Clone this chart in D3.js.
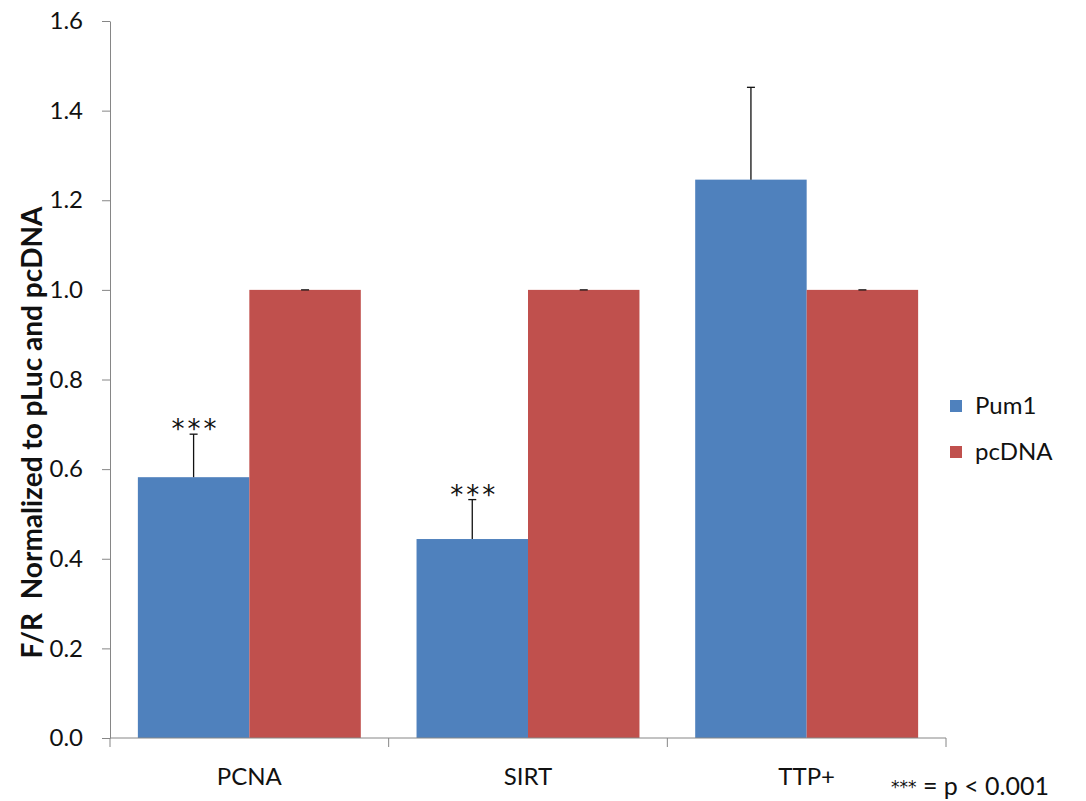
<!DOCTYPE html>
<html>
<head>
<meta charset="utf-8">
<script src="https://cdn.jsdelivr.net/npm/d3@7"></script>
<style>
  html, body { margin: 0; padding: 0; background: #fff; }
  svg { display: block; font-family: Lato, "Open Sans", sans-serif; }
</style>
</head>
<body>
<svg id="chart" width="1086" height="801"></svg>
<script>
// Luciferase ratios per reporter construct
const categories = ["PCNA", "SIRT", "TTP+"];
const seriesNames = ["Pum1", "pcDNA"];
const pum1Values = [0.582, 0.444, 1.246];
const pum1Errors = [0.096, 0.088, 0.206];
const pcdnaValues = [1.0, 1.0, 1.0];
const pcdnaErrors = [0, 0, 0];
const significance = ["***", "***", ""];
const yTicks = [0, 0.2, 0.4, 0.6, 0.8, 1.0, 1.2, 1.4, 1.6];
const colors = ["#4F81BD", "#C0504D"];

const rows = categories.map((c, i) => ({
  cat: c,
  bars: [
    { s: seriesNames[0], v: pum1Values[i], e: pum1Errors[i] },
    { s: seriesNames[1], v: pcdnaValues[i], e: pcdnaErrors[i] }
  ],
  sig: significance[i]
}));

const svg = d3.select("#chart");
const plotLeft = 110, plotRight = 946, plotTop = 21, plotBottom = 738;

const y = d3.scaleLinear().domain([0, 1.6]).range([plotBottom, plotTop]);
const x0 = d3.scaleBand().domain(categories).range([plotLeft, plotRight]).padding(0);
const bw = x0.bandwidth();
const x1 = d3.scaleBand().domain(seriesNames).range([bw * 0.1, bw * 0.9]).padding(0);
const color = d3.scaleOrdinal().domain(seriesNames).range(colors);

// Bars
const groups = svg.append("g").selectAll("g").data(rows).join("g")
  .attr("transform", d => `translate(${x0(d.cat)},0)`);

groups.selectAll("rect").data(d => d.bars).join("rect")
  .attr("x", d => x1(d.s))
  .attr("width", x1.bandwidth())
  .attr("y", d => y(d.v))
  .attr("height", d => y(0) - y(d.v))
  .attr("fill", d => color(d.s));

// Error bars (upper half only)
const err = groups.selectAll("g.err").data(d => d.bars).join("g").attr("class", "err")
  .attr("stroke", "#111").attr("stroke-width", 1.3);
err.append("line")
  .attr("x1", d => x1(d.s) + x1.bandwidth() / 2)
  .attr("x2", d => x1(d.s) + x1.bandwidth() / 2)
  .attr("y1", d => y(d.v))
  .attr("y2", d => y(d.v + d.e));
err.append("line")
  .attr("x1", d => x1(d.s) + x1.bandwidth() / 2 - 4)
  .attr("x2", d => x1(d.s) + x1.bandwidth() / 2 + 4)
  .attr("y1", d => y(d.v + d.e))
  .attr("y2", d => y(d.v + d.e));

// Significance markers above the Pum1 bars
groups.append("text")
  .attr("x", x1(seriesNames[0]) + x1.bandwidth() / 2 + 2)
  .attr("y", d => y(d.bars[0].v + d.bars[0].e) + 4)
  .attr("text-anchor", "middle")
  .attr("font-family", "'DejaVu Sans', sans-serif")
  .attr("font-size", 26)
  .attr("letter-spacing", 3)
  .attr("fill", "#111")
  .text(d => d.sig);

// Y axis
const yAxis = svg.append("g")
  .attr("transform", `translate(${plotLeft},0)`)
  .call(d3.axisLeft(y).tickValues(yTicks).tickFormat(d3.format(".1f")).tickSize(8).tickSizeOuter(0).tickPadding(19));
yAxis.select(".domain").attr("stroke", "#868686");
yAxis.selectAll(".tick line").attr("stroke", "#868686");
yAxis.selectAll(".tick text").attr("font-size", 24).attr("fill", "#111")
  .attr("font-family", "Lato, sans-serif");

// X axis: line plus boundary ticks between categories
const xAxisG = svg.append("g");
xAxisG.append("line")
  .attr("x1", plotLeft).attr("x2", plotRight)
  .attr("y1", y(0)).attr("y2", y(0))
  .attr("stroke", "#868686");
const boundaries = categories.map(c => x0(c)).concat([plotRight]);
xAxisG.selectAll("line.b").data(boundaries).join("line").attr("class", "b")
  .attr("x1", d => d).attr("x2", d => d)
  .attr("y1", y(0)).attr("y2", y(0) + 9)
  .attr("stroke", "#868686");
xAxisG.selectAll("text").data(categories).join("text")
  .attr("x", d => x0(d) + bw / 2)
  .attr("y", 785)
  .attr("text-anchor", "middle")
  .attr("font-size", 24)
  .attr("fill", "#111")
  .text(d => d);

// Y axis title
svg.append("text")
  .attr("transform", `translate(42,${(180 + 685) / 2}) rotate(-90)`)
  .attr("text-anchor", "middle")
  .attr("font-size", 28)
  .attr("font-weight", "bold")
  .attr("fill", "#111")
  .attr("xml:space", "preserve")
  .text("F/R  Normalized to pLuc and pcDNA");

// Legend
const legend = svg.append("g").selectAll("g").data(seriesNames).join("g")
  .attr("transform", (d, i) => `translate(950,${406 + i * 46})`);
legend.append("rect").attr("x", 0).attr("y", -6).attr("width", 12).attr("height", 12)
  .attr("fill", d => color(d));
legend.append("text").attr("x", 25).attr("y", 8).attr("font-size", 24).attr("fill", "#111")
  .text(d => d);

// Footnote
const foot = svg.append("text")
  .attr("x", 891).attr("y", 795)
  .attr("font-size", 25).attr("fill", "#111");
foot.append("tspan").attr("font-family", "'DejaVu Sans', sans-serif").attr("font-size", 17)
  .attr("dy", -2).text("***");
foot.append("tspan").attr("dy", 2).text(" = p < 0.001");
</script>
</body>
</html>
